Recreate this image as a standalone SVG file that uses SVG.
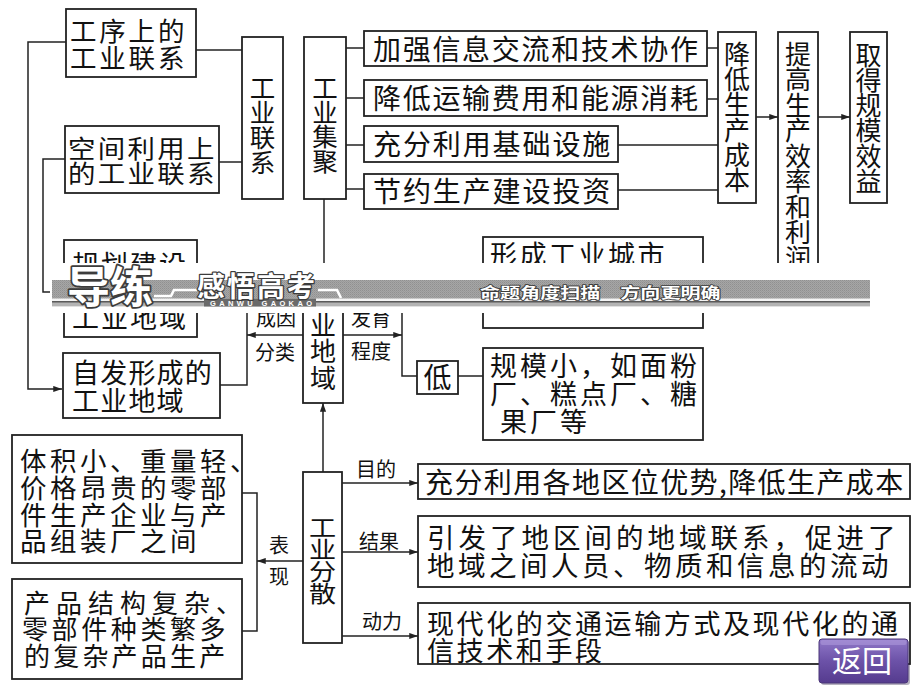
<svg xmlns="http://www.w3.org/2000/svg" width="920" height="690" viewBox="0 0 920 690">
<defs>
<style>
.box{fill:#fff;stroke:#222;stroke-width:1.8}
.ln{fill:none;stroke:#222;stroke-width:1.5}
.t{font-family:"Noto Sans CJK SC","Noto Sans CJK TC",sans-serif;font-size:27px;fill:#111}
.v{text-anchor:middle}
.vr{writing-mode:vertical-rl}
.lab{font-family:"Noto Sans CJK SC",sans-serif;font-size:20px;fill:#111;text-anchor:middle}
.bn{font-family:"Noto Sans CJK SC",sans-serif;font-weight:700;fill:#fff;stroke:#3c3c3c;paint-order:stroke fill;stroke-linejoin:round}
</style>
<marker id="ah" viewBox="0 0 10 8" refX="10" refY="4" markerWidth="9" markerHeight="7" orient="auto" markerUnits="userSpaceOnUse">
<path d="M0,0.5 L10,4 L0,7.5 z" fill="#222"/>
</marker>
<pattern id="dith" width="2" height="2" patternUnits="userSpaceOnUse">
<rect width="2" height="2" fill="#a6a6a6"/>
<rect width="1" height="1" fill="#909090"/>
<rect x="1" y="1" width="1" height="1" fill="#9a9a9a"/>
</pattern>
<linearGradient id="purp" x1="0" y1="0" x2="0" y2="1">
<stop offset="0" stop-color="#9078c8"/>
<stop offset="0.5" stop-color="#6c52a8"/>
<stop offset="1" stop-color="#553b8e"/>
</linearGradient>
</defs>
<rect width="920" height="690" fill="#fff"/>

<g id="connectors">
<polyline class="ln" points="66,42 28,42 28,389 62,389" marker-end="url(#ah)"/>
<polyline class="ln" points="65,159 43,159 43,292 64,292"/>
<line class="ln" x1="196" y1="50" x2="242" y2="50"/>
<line class="ln" x1="219" y1="162" x2="242" y2="162"/>
<line class="ln" x1="346" y1="48" x2="364" y2="48"/>
<line class="ln" x1="346" y1="98" x2="364" y2="98"/>
<line class="ln" x1="346" y1="145" x2="364" y2="145"/>
<line class="ln" x1="346" y1="189" x2="364" y2="189"/>
<line class="ln" x1="707" y1="48" x2="718" y2="48"/>
<line class="ln" x1="707" y1="99" x2="718" y2="99"/>
<line class="ln" x1="618" y1="145" x2="718" y2="145"/>
<line class="ln" x1="618" y1="190" x2="718" y2="190"/>
<line class="ln" x1="756" y1="117" x2="778" y2="117" marker-end="url(#ah)"/>
<line class="ln" x1="818" y1="117" x2="850" y2="117" marker-end="url(#ah)"/>
<line class="ln" x1="324" y1="199" x2="324" y2="268"/>
<line class="ln" x1="303" y1="335" x2="247" y2="335" marker-end="url(#ah)"/>
<polyline class="ln" points="197,290 247,290 247,385 220,385"/>
<line class="ln" x1="343" y1="335" x2="402" y2="335" marker-end="url(#ah)"/>
<polyline class="ln" points="402,290 402,376 417,376"/>
<line class="ln" x1="458" y1="376" x2="483" y2="376"/>
<line class="ln" x1="323" y1="472" x2="323" y2="403" marker-end="url(#ah)"/>
<line class="ln" x1="303" y1="561" x2="257" y2="561" marker-end="url(#ah)"/>
<polyline class="ln" points="242,493 257,493 257,631 242,631"/>
<line class="ln" x1="342" y1="483" x2="418" y2="483" marker-end="url(#ah)"/>
<line class="ln" x1="342" y1="552" x2="418" y2="552" marker-end="url(#ah)"/>
<line class="ln" x1="342" y1="636" x2="418" y2="636" marker-end="url(#ah)"/>
<text class="lab" x="276" y="326" font-size="21">成因</text>
<text class="lab" x="275" y="360" font-size="21">分类</text>
<text class="lab" x="371" y="326" font-size="21">发育</text>
<text class="lab" x="371" y="359" font-size="21">程度</text>
<text class="lab" x="376" y="477">目的</text>
<text class="lab" x="379" y="549">结果</text>
<text class="lab" x="382" y="629">动力</text>
<text class="lab" x="279" y="553">表</text>
<text class="lab" x="279" y="584">现</text>
</g>

<g id="n-gongxu">
<rect class="box" x="66" y="9" width="130" height="68"/>
<text class="t" x="70" y="41" style="font-size:26.5px;letter-spacing:2.8px">工序上的</text>
<text class="t" x="70" y="67.5" style="font-size:26.5px;letter-spacing:2.8px">工业联系</text>
</g>
<g id="n-kongjian">
<rect class="box" x="65" y="126" width="154" height="67"/>
<text class="t" transform="translate(68,158.3) scale(1.12,1)" style="font-size:24.5px;letter-spacing:2.1px">空间利用上</text>
<text class="t" transform="translate(68,182.8) scale(1.12,1)" style="font-size:24.5px;letter-spacing:2.1px">的工业联系</text>
</g>
<g id="n-guihua">
<rect class="box" x="64" y="240" width="133" height="97"/>
<text class="t" x="72" y="275" style="letter-spacing:2px">规划建设</text>
<text class="t" x="72" y="328" style="letter-spacing:2px">工业地域</text>
</g>
<g id="n-zifa">
<rect class="box" x="63" y="353" width="157" height="65"/>
<text class="t" x="72" y="383" style="letter-spacing:1.2px">自发形成的</text>
<text class="t" x="72" y="411" style="letter-spacing:1.2px">工业地域</text>
</g>
<g id="n-lianxi">
<rect class="box" x="242" y="37" width="41" height="162"/>
<text class="t vr" x="262.5" y="75.25" style="font-size:25.5px;letter-spacing:-0.8px">工业联系</text>
</g>
<g id="n-jiju">
<rect class="box" x="304" y="37" width="42" height="162"/>
<text class="t vr" x="325" y="75.25" style="font-size:25.5px;letter-spacing:-1.2px">工业集聚</text>
</g>
<g id="n-jiaqiang">
<rect class="box" x="364" y="31" width="343" height="35"/>
<text class="t" x="373" y="59.5" style="font-size:28px;letter-spacing:1.7px">加强信息交流和技术协作</text>
</g>
<g id="n-jiangdi-yunshu">
<rect class="box" x="364" y="80" width="343" height="36"/>
<text class="t" x="373" y="108.5" style="font-size:28px;letter-spacing:1.7px">降低运输费用和能源消耗</text>
</g>
<g id="n-chongfen-jichu">
<rect class="box" x="364" y="126" width="254" height="36"/>
<text class="t" x="373" y="154.6" style="font-size:28px;letter-spacing:1.9px">充分利用基础设施</text>
</g>
<g id="n-jieyue">
<rect class="box" x="364" y="174" width="254" height="35"/>
<text class="t" x="373" y="202" style="font-size:28px;letter-spacing:1.9px">节约生产建设投资</text>
</g>
<g id="n-jiangdi-chengben">
<rect class="box" x="718" y="32" width="38" height="171"/>
<text class="t vr" x="737" y="41" style="font-size:26px;letter-spacing:-0.7px">降低生产成本</text>
</g>
<g id="n-tigao">
<rect class="box" x="778" y="32" width="40" height="246"/>
<text class="t vr" x="798" y="41" style="font-size:26px;letter-spacing:-0.5px">提高生产效率和利润</text>
</g>
<g id="n-qude">
<rect class="box" x="850" y="32" width="37" height="171"/>
<text class="t vr" x="868.5" y="42" style="font-size:26px;letter-spacing:-0.8px">取得规模效益</text>
</g>
<g id="n-xingcheng">
<rect class="box" x="483" y="237" width="220" height="91"/>
<text class="t" x="490" y="265" style="letter-spacing:2.5px">形成工业城市</text>
</g>
<g id="n-diyu">
<rect class="box" x="303" y="268" width="40" height="135"/>
<text class="t vr" x="323" y="286" style="font-size:26px;letter-spacing:0.3px">工业地域</text>
</g>
<g id="n-di">
<rect class="box" x="417" y="361" width="41" height="33"/>
<text class="t v" x="437.5" y="388" style="font-size:28px">低</text>
</g>
<g id="n-guimo">
<rect class="box" x="483" y="348" width="220" height="92"/>
<text class="t" x="490" y="376.4" style="letter-spacing:3px">规模小，如面粉</text>
<text class="t" x="490" y="404.2" style="letter-spacing:3px">厂、糕点厂、糖</text>
<text class="t" x="500" y="432" style="letter-spacing:3px">果厂等</text>
</g>
<g id="n-fensan">
<rect class="box" x="303" y="472" width="39" height="171"/>
<text class="t vr" transform="translate(322.5,0) scale(1.18,1)" x="0" y="515.5" style="font-size:23px;letter-spacing:-1px">工业分散</text>
</g>
<g id="n-tiji">
<rect class="box" x="12" y="435" width="230" height="128"/>
<text class="t" x="20" y="471" style="font-size:26.5px;letter-spacing:3.5px">体积小、重量轻、</text>
<text class="t" x="20" y="497.8" style="font-size:26.5px;letter-spacing:3.5px">价格昂贵的零部</text>
<text class="t" x="20" y="524.5" style="font-size:26.5px;letter-spacing:3.5px">件生产企业与产</text>
<text class="t" x="20" y="551.2" style="font-size:26.5px;letter-spacing:3.5px">品组装厂之间</text>
</g>
<g id="n-chanpin">
<rect class="box" x="12" y="579" width="230" height="100"/>
<text class="t" x="24" y="612.5" style="font-size:26px;letter-spacing:6px">产品结构复杂、</text>
<text class="t" x="22" y="639" style="font-size:26px;letter-spacing:3.6px">零部件种类繁多</text>
<text class="t" x="24" y="665.5" style="font-size:26px;letter-spacing:3.2px">的复杂产品生产</text>
</g>
<g id="n-mudi">
<rect class="box" x="418" y="464" width="492" height="35"/>
<text class="t" x="425" y="493" style="font-size:28px;letter-spacing:1.4px">充分利用各地区位优势,降低生产成本</text>
</g>
<g id="n-jieguo">
<rect class="box" x="418" y="516" width="492" height="71"/>
<text class="t" x="427" y="548" style="font-size:27.5px;letter-spacing:4px">引发了地区间的地域联系，促进了</text>
<text class="t" x="427" y="575.5" style="font-size:27.5px;letter-spacing:3.5px">地域之间人员、物质和信息的流动</text>
</g>
<g id="n-dongli">
<rect class="box" x="418" y="603" width="492" height="61"/>
<text class="t" x="427" y="633.5" style="font-size:27px;letter-spacing:2.6px">现代化的交通运输方式及现代化的通</text>
<text class="t" x="427" y="661" style="font-size:27px;letter-spacing:2.6px">信技术和手段</text>
</g>

<g id="banner">
<rect x="50" y="263" width="822" height="50" fill="#fff"/>
<rect x="52" y="280" width="818" height="19" fill="url(#dith)"/>
<rect x="52" y="298.5" width="818" height="2.5" fill="#f4f4f4"/>
<rect x="52" y="301" width="818" height="1.8" fill="#5a5a5a"/>
<rect x="52" y="302.8" width="818" height="3.6" fill="#b4b4b4"/>
<rect x="204" y="298.5" width="112" height="8" fill="#6a6a6a"/>
<polyline points="154,296 171,296 174,290 197,290" fill="none" stroke="#fff" stroke-width="2.6"/>
<polyline points="318,290 337,290 341,298" fill="none" stroke="#fff" stroke-width="2.6"/>
<text class="bn" x="67" y="303" style="font-size:43px;stroke-width:3.5px">导练</text>
<text class="bn" x="197" y="296.5" style="font-size:28px;letter-spacing:2px;stroke-width:2.5px">感悟高考</text>
<text x="210" y="305.5" font-family="Liberation Sans, sans-serif" font-size="7.5" font-weight="700" fill="#fff" textLength="102" lengthAdjust="spacing">GANWU GAOKAO</text>
<text class="bn" transform="translate(480,298) scale(1.18,0.85)" style="font-size:17px;stroke-width:2px">命题角度扫描　方向更明确</text>
</g>

<g id="btn-back">
<rect x="821" y="641" width="89" height="44" rx="3" fill="#2c1f48" opacity="0.35"/>
<rect x="819" y="639" width="89" height="44" rx="3" fill="url(#purp)" stroke="#4b3679" stroke-width="1"/>
<rect x="820.5" y="640" width="86" height="5" rx="2" fill="#b3a0e0" opacity="0.5"/>
<text x="862" y="672" font-family="Noto Sans CJK SC, sans-serif" font-size="30" fill="#fff" text-anchor="middle">返回</text>
</g>
</svg>
